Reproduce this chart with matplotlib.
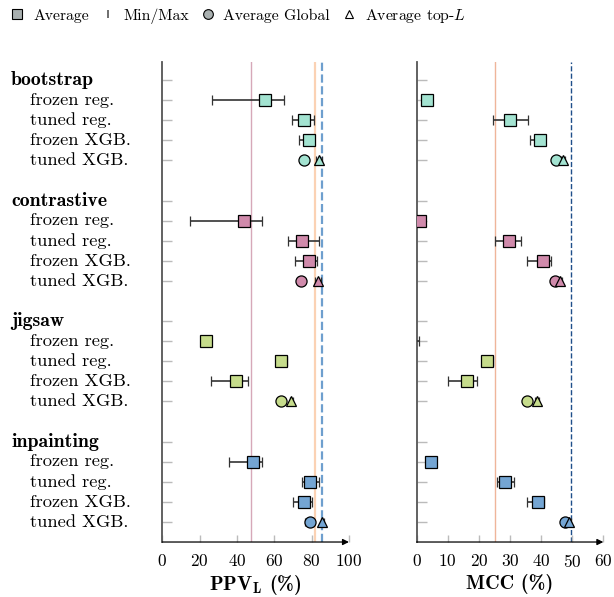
import matplotlib
matplotlib.use('Agg')
import matplotlib.pyplot as plt
from matplotlib.lines import Line2D
from matplotlib.transforms import blended_transform_factory

plt.rcParams['font.family'] = 'cmr10'
plt.rcParams['mathtext.fontset'] = 'cm'
plt.rcParams['axes.unicode_minus'] = False
plt.rcParams['axes.formatter.use_mathtext'] = True

methods = ['bootstrap', 'contrastive', 'jigsaw', 'inpainting']
models = ['frozen reg.', 'tuned reg.', 'frozen XGB.', 'tuned XGB.']
colors = ['#a3e3d1', '#d08aab', '#c6dc8c', '#74a5d3']

# PPV_L : frozen reg., tuned reg., frozen XGB. (average, min, max)
ppv_avg = [[55.0, 75.9, 78.4], [44.0, 74.9, 78.6], [23.6, 63.4, 39.3], [48.6, 79.1, 75.9]]
ppv_min = [[26.8, 69.5, 73.3], [15.0, 67.5, 70.9], [23.0, 62.0, 25.9], [35.9, 74.9, 70.0]]
ppv_max = [[65.4, 81.3, 80.9], [53.3, 84.0, 82.7], [24.2, 66.7, 45.9], [53.6, 84.1, 80.0]]
# tuned XGB.: average global / average top-L
ppv_glob = [76.1, 74.2, 63.6, 79.0]
ppv_glob_lo = [75.6, 73.8, 63.2, 76.6]
ppv_glob_hi = [76.6, 74.6, 64.0, 80.5]
ppv_top = [84.0, 83.6, 69.0, 85.6]
ppv_top_lo = [82.4, 82.0, 68.2, 84.8]
ppv_top_hi = [85.4, 85.2, 69.8, 86.4]

mcc_avg = [[3.2, 30.0, 39.7], [1.0, 29.6, 40.5], [-3.0, 22.7, 16.3], [4.6, 28.4, 38.9]]
mcc_min = [[2.8, 24.6, 36.3], [0.6, 25.1, 35.4], [-5.0, 20.9, 10.2], [4.2, 25.7, 35.4]]
mcc_max = [[3.6, 35.7, 41.4], [1.4, 33.6, 43.1], [0.6, 24.4, 19.4], [5.0, 31.4, 41.0]]
mcc_glob = [44.7, 44.4, 35.4, 47.6]
mcc_glob_lo = [44.3, 44.0, 35.0, 47.0]
mcc_glob_hi = [45.1, 44.8, 35.8, 48.2]
mcc_top = [47.0, 46.2, 38.6, 49.1]
mcc_top_lo = [46.4, 45.6, 38.0, 48.5]
mcc_top_hi = [47.6, 46.8, 39.2, 49.7]

# reference lines
ppv_lines = [(47.7, '#d6a8b8', 1.0, '-'), (81.7, '#fbd2b4', 1.6, '-'), (85.7, '#6e9fce', 1.6, '--')]
mcc_lines = [(25.3, '#efb59a', 1.0, '-'), (49.7, '#1f4f8a', 1.0, '--')]

fig = plt.figure(figsize=(6.14, 5.97), dpi=100)
ax1 = fig.add_axes([0.2643, 0.0921, 0.304, 0.804])
ax2 = fig.add_axes([0.6786, 0.0921, 0.304, 0.804])

ecol = '#333333'
ms_sq, ms_ci, ms_tr = 8.5, 8, 7.5


def draw(ax, avg, lo, hi, glob, glo, ghi, top, tlo, thi, lines, xmax, xticks):
    for xv, c, lw, ls in lines:
        ax.axvline(xv, color=c, lw=lw, ls=ls, zorder=1)
    ticks = []
    for g in range(len(methods)):
        base = g * 6
        ticks.append(base)
        for m in range(3):
            y = base + 1 + m
            ticks.append(y)
            ax.errorbar(avg[g][m], y, xerr=[[avg[g][m] - lo[g][m]], [hi[g][m] - avg[g][m]]],
                        fmt='s', ms=ms_sq, mfc=colors[g], mec='black', mew=0.9,
                        ecolor=ecol, elinewidth=1.2, capsize=3.5, capthick=1.2, zorder=3)
        y = base + 4
        ticks.append(y)
        ax.errorbar(glob[g], y, xerr=[[glob[g] - glo[g]], [ghi[g] - glob[g]]],
                    fmt='o', ms=ms_ci, mfc=colors[g], mec='black', mew=0.9,
                    ecolor=ecol, elinewidth=1.0, capsize=3, capthick=1.0, zorder=3)
        ax.errorbar(top[g], y, xerr=[[top[g] - tlo[g]], [thi[g] - top[g]]],
                    fmt='^', ms=ms_tr, mfc=colors[g], mec='black', mew=0.9,
                    ecolor=ecol, elinewidth=1.0, capsize=3, capthick=1.0, zorder=3)
    ax.set_ylim(23.0, -0.9)
    ax.set_xlim(0, xmax)
    ax.set_yticks(ticks)
    ax.set_yticklabels([])
    ax.set_xticks(xticks)
    ax.tick_params(axis='y', direction='in', length=7, color='#bbbbbb', width=1.0)
    ax.tick_params(axis='x', direction='in', length=5, color='#bbbbbb', width=1.0,
                   labelsize=12.5, pad=8)
    for s in ['top', 'right', 'bottom']:
        ax.spines[s].set_visible(False)
    ax.spines['left'].set_color('#555555')
    ax.spines['left'].set_linewidth(1.3)
    ax.annotate('', xy=(1.0, 0), xytext=(0, 0), xycoords='axes fraction',
                arrowprops=dict(arrowstyle='-|>', color='black', lw=0.9,
                                mutation_scale=9, shrinkA=0, shrinkB=0))


draw(ax1, ppv_avg, ppv_min, ppv_max, ppv_glob, ppv_glob_lo, ppv_glob_hi,
     ppv_top, ppv_top_lo, ppv_top_hi, ppv_lines, 100, [0, 20, 40, 60, 80, 100])
draw(ax2, mcc_avg, mcc_min, mcc_max, mcc_glob, mcc_glob_lo, mcc_glob_hi,
     mcc_top, mcc_top_lo, mcc_top_hi, mcc_lines, 60, [0, 10, 20, 30, 40, 50, 60])

ax1.set_xlabel(r'PPV$_\mathbf{L}$ (%)', fontfamily='cmb10', fontsize=14.5, labelpad=3)
ax2.set_xlabel('MCC (%)', fontfamily='cmb10', fontsize=14.5, labelpad=3)

tr = blended_transform_factory(fig.transFigure, ax1.transData)
for g, name in enumerate(methods):
    base = g * 6
    ax1.text(0.018, base, name, transform=tr, fontfamily='cmb10', fontsize=14.3,
             va='center', ha='left')
    for m, mod in enumerate(models):
        ax1.text(0.049, base + 1 + m, mod, transform=tr, fontsize=13.3,
                 va='center', ha='left')

gray = '#a9b0b0'
handles = [
    Line2D([], [], ls='none', marker='s', ms=7, mfc=gray, mec='black', mew=0.8),
    Line2D([], [], ls='none', marker='|', ms=6, mec='#555555', mew=1.2),
    Line2D([], [], ls='none', marker='o', ms=7, mfc=gray, mec='black', mew=0.8),
    Line2D([], [], ls='none', marker='^', ms=6, mfc='white', mec='black', mew=0.8),
]
labels = ['Average', 'Min/Max', 'Average Global', r'Average top-$L$']
fig.legend(handles, labels, loc='upper left', bbox_to_anchor=(-0.005, 1.012), ncol=4,
           frameon=False, fontsize=11.3, handlelength=0.8, handletextpad=0.6,
           columnspacing=0.8)

fig.savefig('out.png', dpi=100)
